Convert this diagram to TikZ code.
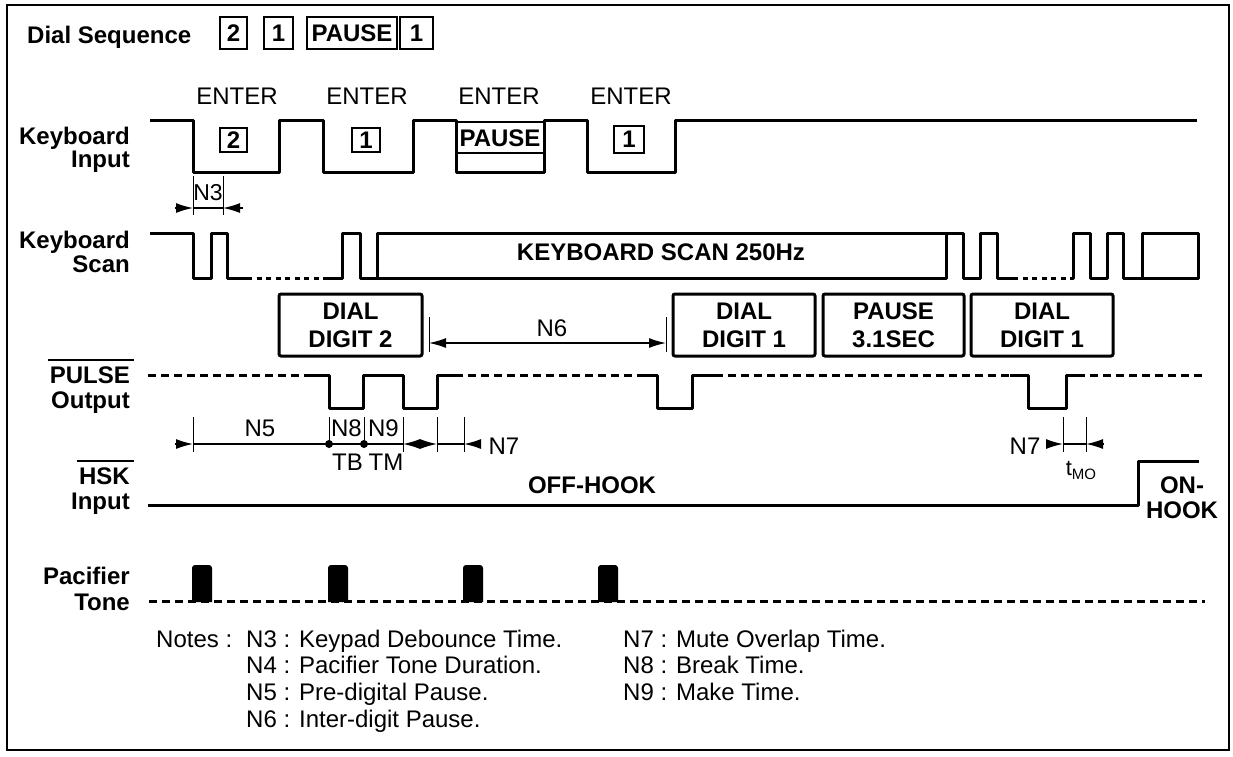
\documentclass[tikz,border=0pt]{standalone}
\usepackage{fontspec}
\setmainfont{Liberation Sans}
\usetikzlibrary{arrows.meta}
\begin{document}
\begin{tikzpicture}[x=1pt,y=-1pt,
  every node/.style={inner sep=0pt, font=\fontsize{24}{28}\selectfont},
  bf/.style={font=\fontsize{24}{28}\selectfont\bfseries},
  lbl/.style={bf, anchor=base east},
  sig/.style={line width=3pt, line join=round},
  dsh/.style={sig, dash pattern=on 8pt off 5pt},
  dotl/.style={sig, dash pattern=on 5pt off 4.5pt},
  dimline/.style={line width=1.4pt},
  tk/.style={line width=1pt},
  arr/.style={dimline, -{Latex[length=17pt,width=10pt]}},
  darr/.style={dimline, {Latex[length=17pt,width=10pt]}-{Latex[length=17pt,width=10pt]}},
  kbox/.style={draw, line width=2pt, bf, text height=17.2pt, text depth=0pt},
  dbox/.style={draw, line width=3pt, rounded corners=2pt, bf, align=center, minimum height=62pt},
]
\useasboundingbox (0,0) rectangle (1233,756);
\draw[line width=2.4pt] (7,5) rectangle (1229,750);

% title
\node[bf, anchor=base west] (title) at (27,43) {Dial Sequence};
\node[kbox, minimum width=27pt, minimum height=32pt] (s1) at (233.5,33) {2};
\node[kbox, minimum width=29pt, minimum height=32pt] (s2) at (278.5,33) {1};
\node[kbox, minimum width=90pt, minimum height=32pt] (s3) at (352,33) {PAUSE};
\node[kbox, minimum width=33pt, minimum height=32pt] (s4) at (416.5,33) {1};

% left labels
\node[lbl] (kb1) at (130,144) {Keyboard};
\node[lbl] (kb1b) at (130,167) {Input};
\node[lbl] (kb2) at (130,248) {Keyboard};
\node[lbl] (kb2b) at (130,272) {Scan};
\node[lbl] (pl) at (130,383) {PULSE};
\node[lbl] (plb) at (130,408) {Output};
\node[lbl] (hk) at (130,484) {HSK};
\node[lbl] (hkb) at (130,509) {Input};
\node[lbl] (pc) at (130,584) {Pacifier};
\node[lbl] (pcb) at (130,610) {Tone};
\draw[line width=2pt] ([xshift=-2pt]pl.west |- 0,360) -- ([xshift=4pt]pl.east |- 0,360);
\draw[line width=2pt] ([xshift=-2pt]hk.west |- 0,461) -- ([xshift=4pt]hk.east |- 0,461);

% ENTER
\node[anchor=base] (e1) at (237,104) {ENTER};
\node[anchor=base] (e2) at (367,104) {ENTER};
\node[anchor=base] (e3) at (499,104) {ENTER};
\node[anchor=base] (e4) at (631,104) {ENTER};

% keyboard input
\draw[sig] (150,120) -- (193,120) -- (193,172) -- (279,172) -- (279,120) -- (323,120) -- (323,172) -- (413,172) -- (413,120) -- (456,120) -- (456,172) -- (544,172) -- (544,120) -- (587,120) -- (587,172) -- (675,172) -- (675,120) -- (1197,120);
\node[kbox, minimum width=27pt, minimum height=24pt] (k1) at (233.5,140) {2};
\node[kbox, minimum width=28pt, minimum height=24pt] (k2) at (366,140) {1};
\node[kbox, minimum width=88pt, minimum height=31pt] (k3) at (500,137.5) {PAUSE};
\node[kbox, minimum width=30pt, minimum height=27pt] (k4) at (629,139) {1};

% N3
\draw[tk] (193,176) -- (193,215);
\draw[tk] (223,176) -- (223,215);
\coordinate (n3l) at (175,208); \coordinate (n3a) at (193,208);
\coordinate (n3r) at (243,208); \coordinate (n3b) at (223,208);
\draw[dimline] (n3a) -- (n3b);
\draw[arr] (n3l) -- (n3a);
\draw[arr] (n3r) -- (n3b);
\node[font=\fontsize{23}{26}\selectfont] (n3t) at (208,192.5) {N3};

% keyboard scan
\draw[sig] (150,233) -- (193,233) -- (193,278) -- (211,278) -- (211,233) -- (227,233) -- (227,278) -- (247,278);
\draw[dotl] (247,278) -- (325,278);
\draw[sig] (325,278) -- (342,278) -- (342,233) -- (360,233) -- (360,278) -- (946,278) -- (946,233);
\draw[sig] (377,278) -- (377,233) -- (963,233) -- (963,278) -- (980,278) -- (980,233) -- (997,233) -- (997,278) -- (1013,278);
\draw[dotl] (1013,278) -- (1070,278);
\draw[sig] (1070,278) -- (1073,278) -- (1073,233) -- (1090,233) -- (1090,278) -- (1107,278) -- (1107,233) -- (1123,233) -- (1123,278) -- (1198,278) -- (1198,233) -- (1142,233) -- (1142,278);
\node[bf] (scan) at (661,252) {KEYBOARD SCAN 250Hz};

% dial boxes
\node[dbox, minimum width=143pt] (d2) at (350.5,325) {DIAL\\DIGIT 2};
\node[dbox, minimum width=142pt] (d1) at (744,325) {DIAL\\DIGIT 1};
\node[dbox, minimum width=141pt] (ps) at (893.5,325) {PAUSE\\3.1SEC};
\node[dbox, minimum width=142pt] (d1b) at (1042,325) {DIAL\\DIGIT 1};

% N6
\draw[tk] (429,317) -- (429,352);
\draw[tk] (666,317) -- (666,352);
\coordinate (n6a) at (429,343); \coordinate (n6b) at (666,343);
\draw[darr] (n6a) -- (n6b);
\node (n6t) at (552,328) {N6};

% pulse output
\draw[dsh] (148,375) -- (307,375);
\draw[sig] (307,375) -- (329,375) -- (329,408) -- (363,408) -- (363,375) -- (403,375) -- (403,408) -- (437,408) -- (437,375) -- (455,375);
\draw[dsh] (455,375) -- (640,375);
\draw[sig] (640,375) -- (657,375) -- (657,408) -- (692,408) -- (692,375) -- (715,375);
\draw[dsh] (715,375) -- (1010,375);
\draw[sig] (1010,375) -- (1028,375) -- (1028,408) -- (1066,408) -- (1066,375) -- (1077,375);
\draw[dsh] (1077,375) -- (1205,375);

% N5 / N8 / N9 / N7 dimensions
\foreach \x in {193,403,437,464} \draw[tk] (\x,417) -- (\x,452);
\foreach \x in {329,364} \draw[tk] (\x,417) -- (\x,444);
\coordinate (n5l) at (175,444); \coordinate (n5a) at (193,444);
\coordinate (n9b) at (403,444); \coordinate (n7a) at (437,444);
\coordinate (n7b) at (464,444); \coordinate (n7r) at (481,444);
\draw[arr] (n5l) -- (n5a);
\draw[dimline] (n5a) -- (n9b);
\draw[darr] (n9b) -- (n7a);
\draw[dimline] (n7a) -- (n7b);
\draw[arr] (n7r) -- (n7b);
\fill (329,444) circle (4pt);
\fill (364,444) circle (4pt);
\node (n5t) at (260,428) {N5};
\node (n8t) at (346.5,428) {N8};
\node (n9t) at (383.5,428) {N9};
\node (tbt) at (347.5,462) {TB};
\node (tmt) at (386,462) {TM};
\node (n7t) at (504,446) {N7};

% right N7 / tMO
\draw[tk] (1063,417) -- (1063,452);
\draw[tk] (1086,417) -- (1086,452);
\coordinate (m7l) at (1046,444); \coordinate (m7a) at (1063,444);
\coordinate (m7r) at (1104,444); \coordinate (m7b) at (1086,444);
\draw[dimline] (m7a) -- (m7b);
\draw[arr] (m7l) -- (m7a);
\draw[arr] (m7r) -- (m7b);
\node (n7t2) at (1025,446) {N7};
\node (tmo) at (1081,470) {\fontsize{22}{22}\selectfont t\raisebox{-4pt}{\fontsize{15}{15}\selectfont MO}};

% HSK
\draw[sig] (148,505) -- (1138,505) -- (1138,461) -- (1199,461);
\node[bf, anchor=base] (off) at (592,493) {OFF-HOOK};
\node[bf, anchor=base] (on1) at (1182,493) {ON-};
\node[bf, anchor=base] (on2) at (1182,518) {HOOK};

% pacifier
\draw[dsh] (149,601) -- (1205,601);
\foreach \x in {192,328,463,598}
  \fill (\x,602) [rounded corners=3pt] -- (\x,565) -- (\x+20,565) [sharp corners] -- (\x+20,602) -- cycle;

% notes
\node[anchor=base west] (notes) at (156,647) {Notes :};
\node[anchor=base west] (nt3) at (246,647) {N3 : Keypad Debounce Time.};
\node[anchor=base west] (nt4) at (246,673) {N4 : Pacifier Tone Duration.};
\node[anchor=base west] (nt5) at (246,700) {N5 : Pre-digital Pause.};
\node[anchor=base west] (nt6) at (246,727) {N6 : Inter-digit Pause.};
\node[anchor=base west] (nt7) at (623,647) {N7 : Mute Overlap Time.};
\node[anchor=base west] (nt8) at (623,673) {N8 : Break Time.};
\node[anchor=base west] (nt9) at (623,700) {N9 : Make Time.};
\end{tikzpicture}
\end{document}
